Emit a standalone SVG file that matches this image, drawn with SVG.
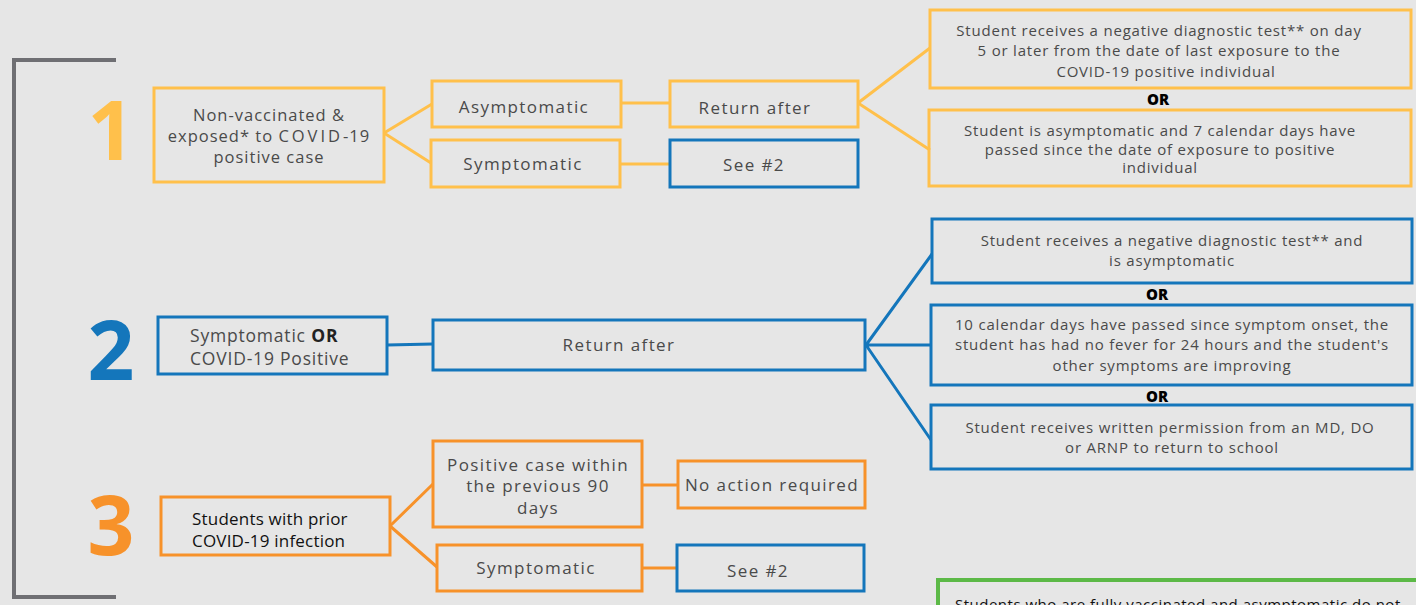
<svg xmlns="http://www.w3.org/2000/svg" width="1416" height="605" viewBox="0 0 1416 605">
<style>
text{font-family:"Open Sans","Noto Sans","DejaVu Sans",sans-serif;fill:#4a4a4a;}
.y{fill:none;stroke:#ffc04b;stroke-width:3}
.o{fill:none;stroke:#f7922a;stroke-width:3}
.b{fill:none;stroke:#1476bb;stroke-width:3}
.lab{font-size:17px;letter-spacing:1.4px;text-anchor:middle}
.sm{font-size:15px;letter-spacing:0.8px;text-anchor:middle}
.or{font-size:15px;font-weight:900;fill:#000;text-anchor:middle}
.num{font-size:82px;font-weight:bold;text-anchor:middle}
.l2{font-size:17.5px;letter-spacing:0.8px}
</style>
<rect width="1416" height="605" fill="#e6e6e6"/>
<path d="M116,60 H14 V597 H116" fill="none" stroke="#6f6f73" stroke-width="4"/>
<text class="num" x="111" y="160" style="fill:#ffc04b">1</text>
<text class="num" x="111" y="380" style="fill:#1476bb">2</text>
<text class="num" x="111" y="555" style="fill:#f7922a">3</text>
<g id="connectors">
<path class="y" d="M384,133 L432,104 M384,133 L431,163 M621,103 H670 M620,164 H670 M858,103 L930,48 M858,103 L930,150"/>
<path class="b" d="M387,345 L433,344 M866,345 L932,254 M866,345 H931 M866,345 L931,440"/>
<path class="o" d="M390,526 L433,484 M390,526 L437,567 M642,485 H678 M642,568 H677"/>
</g>
<g id="n1"><rect class="y" x="154" y="88" width="230" height="94"/>
<text x="269" y="121" style="font-size:16.5px;letter-spacing:1px;text-anchor:middle">Non-vaccinated &amp;</text>
<text x="269" y="142" style="font-size:16.5px;letter-spacing:1px;text-anchor:middle">exposed* to <tspan letter-spacing="3">COVID</tspan>-19</text>
<text x="269" y="163" style="font-size:16.5px;letter-spacing:1px;text-anchor:middle">positive case</text></g>
<g id="n1a"><rect class="y" x="432" y="81" width="189" height="46"/><text class="lab" x="524" y="113">Asymptomatic</text></g>
<g id="n1s"><rect class="y" x="431" y="140" width="189" height="47"/><text class="lab" x="523" y="170">Symptomatic</text></g>
<g id="n1r"><rect class="y" x="670" y="81" width="188" height="46"/><text class="lab" x="755" y="114">Return after</text></g>
<g id="n1see"><rect class="b" x="670" y="140" width="188" height="47"/><text class="lab" x="754" y="171">See #2</text></g>
<g id="n1c1"><rect class="y" x="930" y="10" width="481" height="78"/>
<text class="sm" x="1159" y="36">Student receives a negative diagnostic test** on day</text>
<text class="sm" x="1159" y="56">5 or later from the date of last exposure to the</text>
<text class="sm" x="1166" y="77">COVID-19 positive individual</text></g>
<text class="or" x="1158" y="105">OR</text>
<g id="n1c2"><rect class="y" x="929" y="110" width="482" height="76"/>
<text class="sm" x="1160" y="136">Student is asymptomatic and 7 calendar days have</text>
<text class="sm" x="1160" y="155">passed since the date of exposure to positive</text>
<text class="sm" x="1160" y="173">individual</text></g>
<g id="n2"><rect class="b" x="158" y="317" width="229" height="57"/>
<text class="l2" x="190" y="342">Symptomatic <tspan font-weight="bold" fill="#222">OR</tspan></text>
<text class="l2" x="190" y="365">COVID-19 Positive</text></g>
<g id="n2r"><rect class="b" x="433" y="320" width="432" height="50"/><text class="lab" x="619" y="351">Return after</text></g>
<g id="n2c1"><rect class="b" x="932" y="219" width="480" height="64"/>
<text class="sm" x="1172" y="246">Student receives a negative diagnostic test** and</text>
<text class="sm" x="1172" y="266">is asymptomatic</text></g>
<text class="or" x="1157" y="300">OR</text>
<g id="n2c2"><rect class="b" x="931" y="305" width="481" height="80"/>
<text class="sm" x="1172" y="330">10 calendar days have passed since symptom onset, the</text>
<text class="sm" x="1172" y="350">student has had no fever for 24 hours and the  student's</text>
<text class="sm" x="1172" y="371">other symptoms are improving</text></g>
<text class="or" x="1157" y="402">OR</text>
<g id="n2c3"><rect class="b" x="931" y="405" width="481" height="64"/>
<text class="sm" x="1170" y="433">Student receives written permission from  an MD, DO</text>
<text class="sm" x="1172" y="453">or ARNP to return to school</text></g>
<g id="n3"><rect class="o" x="161" y="497" width="229" height="58"/>
<text x="192" y="525" style="font-size:17px;letter-spacing:0.2px;fill:#111">Students with prior</text>
<text x="192" y="547" style="font-size:17px;letter-spacing:0.2px;fill:#111">COVID-19 infection</text></g>
<g id="n3p"><rect class="o" x="433" y="441" width="209" height="86"/>
<text class="lab" x="538" y="471">Positive case within</text>
<text class="lab" x="538" y="492">the previous 90</text>
<text class="lab" x="538" y="514">days</text></g>
<g id="n3n"><rect class="o" x="678" y="461" width="187" height="47"/><text class="lab" x="772" y="491">No action required</text></g>
<g id="n3s"><rect class="o" x="437" y="545" width="205" height="46"/><text class="lab" x="536" y="574">Symptomatic</text></g>
<g id="n3see"><rect class="b" x="677" y="545" width="187" height="46"/><text class="lab" x="758" y="577">See #2</text></g>
<g id="note"><rect x="938" y="580" width="490" height="60" fill="none" stroke="#5cb947" stroke-width="4"/>
<text x="955" y="610" style="font-size:15px;letter-spacing:0.5px;fill:#111">Students who are fully vaccinated and asymptomatic do not</text></g>
</svg>
